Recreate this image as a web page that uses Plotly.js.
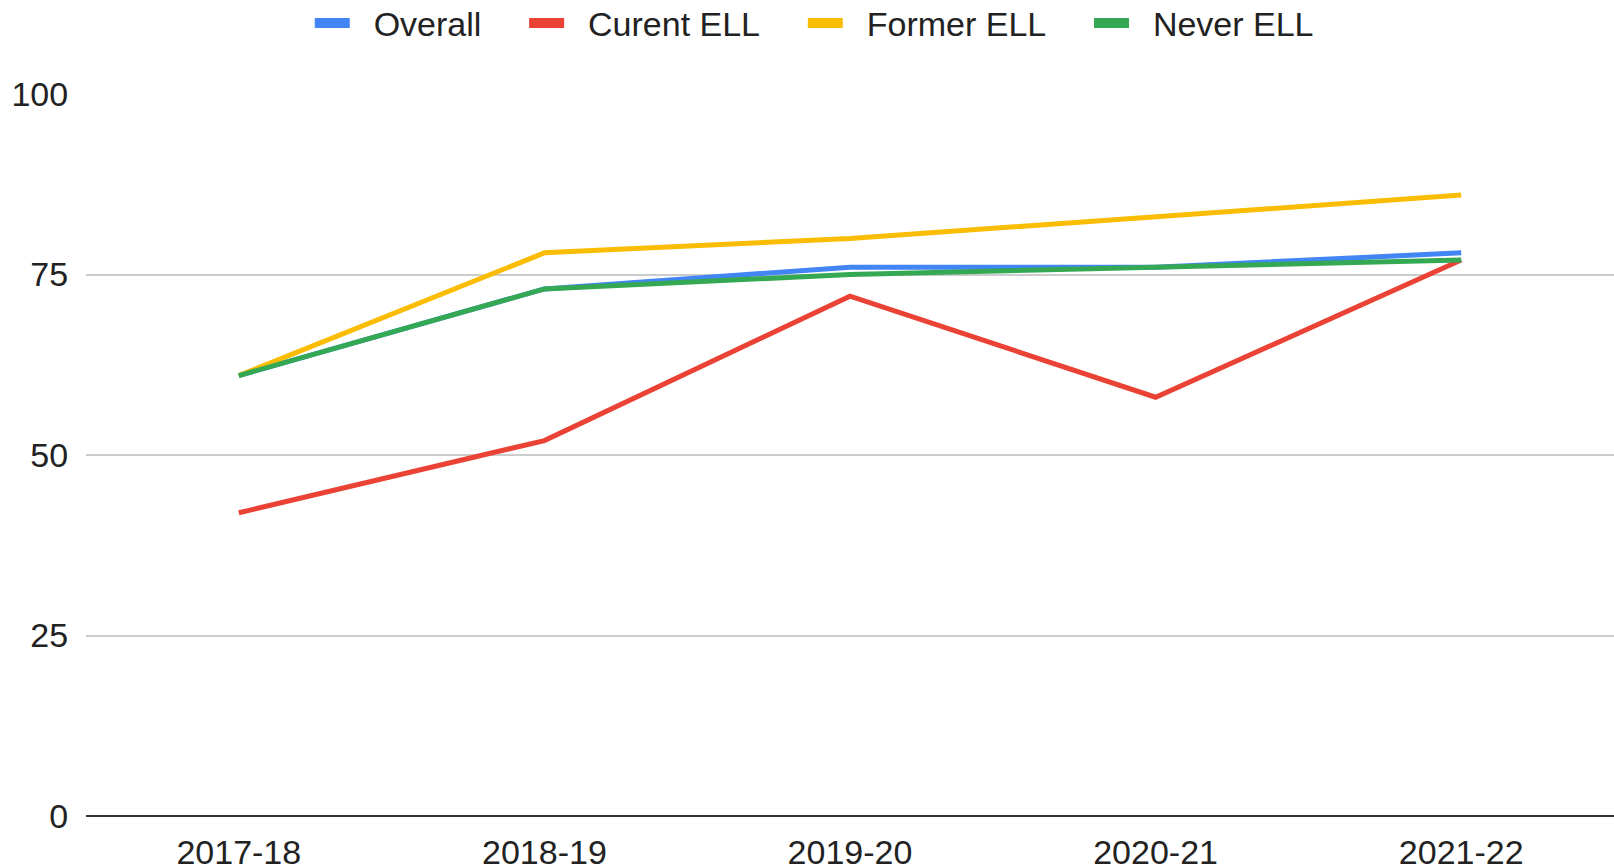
<!DOCTYPE html>
<html>
<head>
<meta charset="utf-8">
<script src="https://cdn.plot.ly/plotly-3.0.1.min.js"></script>
<style>
  html, body { margin: 0; padding: 0; background: #fff; }
  #chart { width: 1614px; height: 867px; }
</style>
</head>
<body>
<div id="chart"></div>
<script>
const years = ["2017-18", "2018-19", "2019-20", "2020-21", "2021-22"];
const overall = [61, 73, 76, 76, 78];
const currentELL = [42, 52, 72, 58, 77];
const formerELL = [61, 78, 80, 83, 86];
const neverELL = [61, 73, 75, 76, 77];
const seriesNames = ["Overall", "Curent ELL", "Former ELL", "Never ELL"];
const seriesColors = ["#4285F4", "#EA4335", "#FBBC04", "#34A853"];
const yTicks = [0, 25, 50, 75, 100];

const NB = "\u00a0";
const allSeries = [overall, currentELL, formerELL, neverELL];
const traces = allSeries.map((vals, i) => ({
  x: years,
  y: vals,
  name: seriesNames[i],
  legendgroup: seriesNames[i],
  showlegend: false,
  type: "scatter",
  mode: "lines",
  line: { color: seriesColors[i], width: 5 },
  hoverinfo: "x+y+name"
}));
// legend swatches for the same series, drawn as thick bars
seriesNames.forEach((nm, i) => {
  const label = NB + NB + nm + (i < seriesNames.length - 1 ? NB.repeat(4) : "");
  traces.push({
    x: [null], y: [null],
    name: label,
    legendgroup: nm,
    showlegend: true,
    type: "scatter",
    mode: "lines",
    line: { color: seriesColors[i], width: 11 },
    hoverinfo: "skip"
  });
});

const layout = {
  width: 1614,
  height: 867,
  paper_bgcolor: "#fff",
  plot_bgcolor: "#fff",
  margin: { l: 86, r: 0, t: 94, b: 51, pad: 0 },
  font: { family: "Liberation Sans, Arial, sans-serif", size: 34, color: "#222" },
  showlegend: true,
  legend: {
    orientation: "h",
    x: 0.5045, xref: "container", xanchor: "center",
    y: 0.973, yref: "container", yanchor: "middle",
    font: { size: 34, color: "#222" },
    itemwidth: 35,
    traceorder: "normal"
  },
  xaxis: {
    type: "category",
    range: [-0.5, 4.5],
    showgrid: false,
    zeroline: false,
    showline: false,
    ticks: "outside",
    ticklen: 6,
    tickcolor: "rgba(0,0,0,0)",
    tickfont: { size: 34, color: "#222" },
    fixedrange: true
  },
  yaxis: {
    range: [0, 100],
    tickvals: yTicks,
    ticktext: yTicks.map(String),
    showgrid: true,
    gridcolor: "#cccccc",
    gridwidth: 2,
    zeroline: true,
    zerolinecolor: "#333333",
    zerolinewidth: 2,
    showline: false,
    ticks: "outside",
    ticklen: 10,
    tickcolor: "rgba(0,0,0,0)",
    tickfont: { size: 34, color: "#222" },
    fixedrange: true
  }
};

Plotly.newPlot("chart", traces, layout, { displayModeBar: false, staticPlot: true });
</script>
</body>
</html>
